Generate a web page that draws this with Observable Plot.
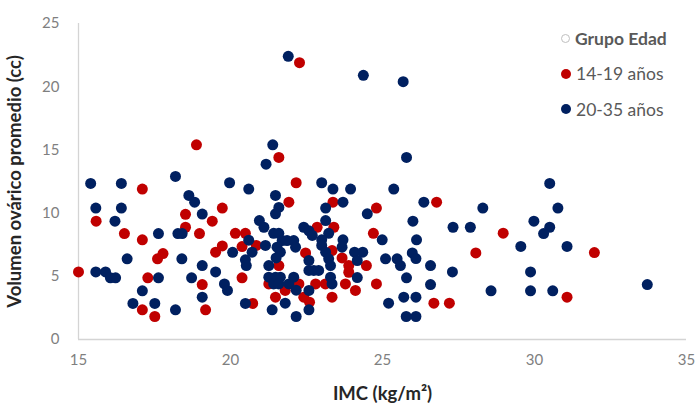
<!DOCTYPE html>
<html>
<head>
<meta charset="utf-8">
<script src="https://cdn.jsdelivr.net/npm/d3@7"></script>
<script src="https://cdn.jsdelivr.net/npm/@observablehq/plot@0.6"></script>
<style>
  html, body { margin: 0; padding: 0; background: #fff; }
  #wrap { position: relative; width: 696px; height: 405px; font-family: Lato, "Open Sans", sans-serif; }
  #legend { position: absolute; left: 561px; top: 26px; font-size: 17.5px; color: #595959; }
  .item { display: flex; align-items: center; height: 24px; margin-bottom: 11.5px; }
  .sw { width: 10px; height: 10px; border-radius: 50%; margin-right: 5px; box-sizing: border-box; }
</style>
</head>
<body>
<div id="wrap"></div>
<script>
// Data: [IMC, volumen ovárico promedio]
const edad1419 = [
  [22.27,21.9],[18.88,15.4],[21.59,14.4],[17.1,11.9],[22.16,12.4],[21.92,10.86],[23.37,10.86],[26.78,10.86],
  [24.8,10.4],[15.58,9.36],[16.51,8.38],[17.1,7.89],[18.52,9.9],[18.52,8.88],[19.4,9.36],[19.73,10.4],
  [18.98,8.38],[17.6,6.38],[17.78,6.8],[19.51,6.91],[19.73,7.4],[20.16,8.4],[20.49,8.4],[20.38,7.35],
  [20.85,7.44],[22.85,8.88],[23.4,8.88],[24.7,8.4],[28.97,8.41],[22.47,6.85],[23.34,7.04],[23.67,6.45],
  [24.47,5.85],[23.89,5.85],[23.89,5.32],[21.59,5.85],[15.0,5.35],[17.28,4.88],[19.07,4.35],[17.1,2.35],
  [17.51,1.82],[19.18,2.35],[20.38,4.88],[20.73,2.85],[21.26,4.4],[21.8,3.88],[21.48,3.35],[22.25,4.4],
  [22.41,3.35],[22.6,2.95],[22.8,4.4],[23.12,4.4],[23.34,3.35],[23.78,4.4],[24.11,3.88],[24.8,4.4],
  [26.69,2.87],[27.2,2.87],[28.07,6.85],[31.97,6.88],[31.07,3.35]
];
const edad2035 = [
  [21.9,22.4],[24.37,20.9],[25.68,20.4],[21.39,15.4],[21.17,13.87],[25.79,14.4],[15.4,12.35],[16.41,12.35],
  [18.19,12.9],[19.97,12.4],[20.6,11.9],[21.48,11.4],[23.0,12.4],[23.37,11.9],[23.95,11.9],[25.37,11.9],
  [30.5,12.35],[18.63,11.4],[18.82,10.86],[21.59,10.45],[21.48,9.94],[23.7,10.86],[23.13,10.4],[26.36,10.86],
  [28.3,10.4],[30.77,10.4],[15.57,10.4],[16.41,10.4],[16.2,9.36],[19.07,9.92],[24.5,9.94],[23.13,9.41],
  [20.95,9.41],[21.1,8.88],[26.0,9.36],[29.98,9.36],[30.5,8.88],[30.3,8.38],[27.32,8.88],[27.89,8.88],
  [17.63,8.38],[18.27,8.38],[18.41,8.38],[21.42,8.4],[21.59,8.4],[22.41,8.88],[22.58,8.6],[22.69,8.23],
  [23.23,8.4],[20.6,7.86],[21.7,7.83],[21.86,7.83],[22.08,7.83],[23.0,7.89],[23.7,7.89],[24.99,7.89],
  [26.12,7.89],[21.15,7.44],[21.53,7.3],[22.14,7.3],[23.0,7.44],[23.67,7.3],[29.55,7.36],[31.07,7.36],
  [20.07,6.9],[20.71,6.91],[21.64,6.91],[23.13,6.91],[24.08,6.91],[24.35,6.91],[25.98,6.85],[16.6,6.38],
  [18.4,6.38],[20.49,6.3],[21.5,6.45],[23.23,6.38],[24.17,6.25],[25.1,6.38],[25.48,6.38],[26.1,6.4],
  [20.52,5.85],[21.26,5.85],[22.58,6.25],[23.29,5.85],[25.59,5.85],[26.58,5.85],[19.07,5.85],[15.57,5.35],
  [15.89,5.35],[19.51,5.35],[22.58,5.46],[22.74,5.46],[22.9,5.46],[27.3,5.35],[29.87,5.35],[16.05,4.88],
  [16.22,4.88],[17.63,4.88],[18.72,4.88],[21.26,4.93],[21.48,4.93],[21.64,4.93],[22.08,4.93],[23.29,4.93],
  [24.17,4.9],[25.79,4.88],[19.8,4.4],[21.42,4.4],[21.59,4.4],[21.92,4.4],[23.34,4.4],[26.58,4.35],
  [33.71,4.35],[17.1,3.85],[19.9,3.88],[22.16,3.9],[22.58,3.88],[28.57,3.85],[29.87,3.85],[30.6,3.85],
  [19.07,3.35],[25.7,3.35],[26.1,3.35],[16.79,2.85],[17.51,2.85],[20.49,2.85],[21.8,2.87],[25.2,2.87],
  [18.19,2.35],[21.37,2.35],[22.58,2.35],[22.16,1.82],[25.78,1.82],[26.1,1.82]
];
const xTicks = [15, 20, 25, 30, 35];
const yTicks = [0, 5, 10, 15, 20, 25];
const legendTitle = "Grupo Edad";
const groupNames = ["14-19 años", "20-35 años"];
const groupColors = ["#C00000", "#002060"];

const chart = Plot.plot({
  width: 696,
  height: 405,
  marginLeft: 78,
  marginRight: 10,
  marginTop: 23,
  marginBottom: 66,
  style: { fontFamily: "Lato, 'Open Sans', sans-serif", fontSize: "15px", background: "#fff" },
  x: { domain: [15, 35] },
  y: { domain: [0, 25] },
  marks: [
    Plot.ruleY([0], { stroke: "#d4d4d4", strokeWidth: 1.3 }),
    Plot.ruleX([15], { stroke: "#d4d4d4", strokeWidth: 1.3 }),
    Plot.axisX(xTicks, { tickSize: 0, tickPadding: 15, fill: "#7f7f7f", label: "IMC (kg/m²)", labelArrow: "none", labelAnchor: "center", labelOffset: 60 }),
    Plot.axisY(yTicks, { tickSize: 0, tickPadding: 19, fill: "#7f7f7f", label: "Volumen ovárico promedio (cc)", labelArrow: "none", labelAnchor: "center", labelOffset: 71 }),
    Plot.dot(edad1419, { x: d => d[0], y: d => d[1], r: 5.5, fill: groupColors[0] }),
    Plot.dot(edad2035, { x: d => d[0], y: d => d[1], r: 5.5, fill: groupColors[1] })
  ]
});
// style the axis titles (bold, dark)
d3.select(chart).selectAll("g[aria-label='x-axis label'] text, g[aria-label='y-axis label'] text")
  .attr("font-weight", "bold").attr("fill", "#262626").attr("font-size", "18.5px");

const wrap = document.getElementById("wrap");
wrap.appendChild(chart);

const legend = document.createElement("div");
legend.id = "legend";
const items = [{ label: legendTitle, hollow: true }].concat(groupNames.map((g, i) => ({ label: g, color: groupColors[i] })));
for (const it of items) {
  const row = document.createElement("div");
  row.className = "item";
  const sw = document.createElement("div");
  sw.className = "sw";
  if (it.hollow) { sw.style.border = "1.2px solid #bfbfbf"; sw.style.width = "9px"; sw.style.height = "9px"; }
  else sw.style.background = it.color;
  const t = document.createElement("span");
  t.textContent = it.label;
  if (it.hollow) t.style.fontWeight = "bold";
  row.appendChild(sw); row.appendChild(t);
  legend.appendChild(row);
}
wrap.appendChild(legend);
</script>
</body>
</html>
